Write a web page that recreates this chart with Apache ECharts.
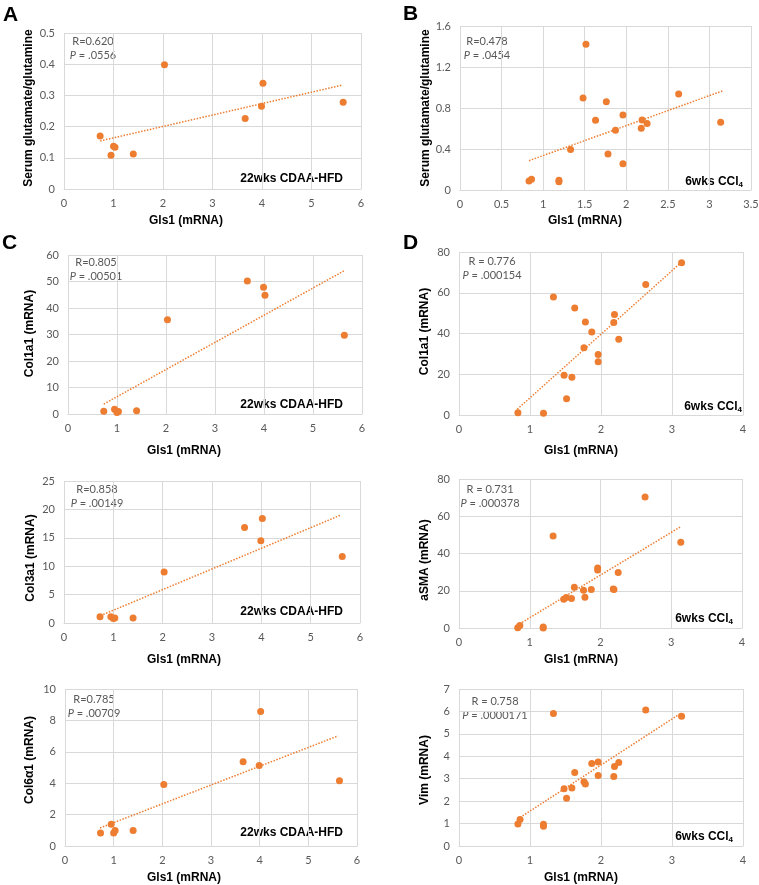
<!DOCTYPE html>
<html>
<head>
<meta charset="utf-8">
<script src="https://cdn.jsdelivr.net/npm/echarts@6/dist/echarts.min.js"></script>
<style>
  html, body { margin: 0; padding: 0; background: #fff; }
  #chart { width: 759px; height: 885px; }
</style>
</head>
<body>
<div id="chart"></div>
<script>
// Gls1 mRNA per mouse (x values)
var gls1Cdaa = [0.73, 0.95, 1.00, 1.03, 1.40, 2.03, 3.66, 3.99, 4.02, 5.64];
var gls1Ccl4 = [0.83, 0.86, 1.19, 1.19, 1.33, 1.48, 1.515, 1.59, 1.63, 1.76, 1.78, 1.87, 1.96, 1.96, 2.18, 2.19, 2.25, 2.63, 3.135];

// 22wks CDAA-HFD
var glutCdaa   = [0.170, 0.108, 0.137, 0.134, 0.112, 0.398, 0.226, 0.265, 0.339, 0.278];
var col1a1Cdaa = [1.0, 1.8, 0.6, 0.9, 1.2, 35.6, 50.2, 47.8, 44.8, 29.7];
var col3a1Cdaa = [1.1, 1.1, 0.8, 0.9, 0.9, 9.0, 16.8, 14.5, 18.4, 11.7];
var col6a1Cdaa = [0.83, 1.39, 0.83, 0.98, 0.98, 3.92, 5.37, 5.12, 8.57, 4.16];

// 6wks CCl4 (null = no point shown)
var glutCcl4   = [0.088, 0.104, 0.094, 0.081, 0.394, 0.898, 1.421, null, 0.680, 0.862, 0.351, 0.582, 0.732, 0.257, 0.602, 0.683, 0.650, 0.937, 0.660];
var col1a1Ccl4 = [1.15, null, 0.8, null, 57.9, 19.5, 8.0, 18.5, 52.5, 33.0, 45.7, 40.7, 29.7, 26.1, 45.4, 49.3, 37.2, 64.1, 74.75];
var asmaCcl4   = [0.2, 1.4, 0.5, 0.0, 49.4, 15.5, 16.4, 15.8, 21.9, 20.3, 16.5, 20.7, 32.2, 31.1, 21.0, 20.7, 29.8, 70.3, 46.0];
var vimCcl4    = [0.98, 1.18, 0.97, 0.88, 5.91, 2.55, 2.13, 2.59, 3.28, 2.86, 2.76, 3.68, 3.75, 3.14, 3.10, 3.54, 3.72, 6.06, 5.79];

// trendline end points [x, y]
var trendGlutCdaa   = [[0.73, 0.154], [5.62, 0.333]];
var trendGlutCcl4   = [[0.83, 0.286], [3.155, 0.966]];
var trendCol1a1Cdaa = [[0.73, 3.76], [5.63, 54.0]];
var trendCol1a1Ccl4 = [[0.82, 2.8], [3.13, 74.9]];
var trendCol3a1Cdaa = [[0.74, 1.3], [5.61, 19.0]];
var trendAsmaCcl4   = [[0.855, 2.2], [3.13, 54.3]];
var trendCol6a1Cdaa = [[0.72, 1.15], [5.61, 7.01]];
var trendVimCcl4    = [[0.86, 1.27], [3.13, 5.93]];

var rTexts = ['R=0.620', 'R=0.478', 'R=0.805', 'R = 0.776', 'R=0.858', 'R = 0.731', 'R=0.785', 'R = 0.758'];
var pTexts = ['.0556', '.0454', '.00501', '.000154', '.00149', '.000378', '.00709', '.0000171'];
var yNames = ['Serum glutamate/glutamine', 'Serum glutamate/glutamine', 'Col1a1 (mRNA)', 'Col1a1 (mRNA)',
              'Col3a1 (mRNA)', 'aSMA (mRNA)', 'Col6\u03b11 (mRNA)', 'Vim (mRNA)'];
var xName = 'Gls1 (mRNA)';

var ORANGE = '#ED7D31';
var GRAY = '#595959';

var panels = [
  { grid: [64, 33, 297, 156], x: gls1Cdaa, y: glutCdaa, trend: trendGlutCdaa, xAx: [6, 1], yAx: [0.5, 0.1],
    letter: ['A', 3, 15], stat: [93, 41], group: ['cdaa', 343, 179], xn: [186, 221], yn: [28.5, 108] },
  { grid: [460, 26, 291, 164], x: gls1Ccl4, y: glutCcl4, trend: trendGlutCcl4, xAx: [3.5, 0.5], yAx: [1.6, 0.4],
    letter: ['B', 403, 14], stat: [487, 41], group: ['ccl4', 743, 182], xn: [585, 221], yn: [426, 108] },
  { grid: [68, 255, 294, 159], x: gls1Cdaa, y: col1a1Cdaa, trend: trendCol1a1Cdaa, xAx: [6, 1], yAx: [60, 10],
    letter: ['C', 2, 243], stat: [96, 262], group: ['cdaa', 343, 405], xn: [184, 451], yn: [29.5, 333.5] },
  { grid: [459, 252, 284, 163], x: gls1Ccl4, y: col1a1Ccl4, trend: trendCol1a1Ccl4, xAx: [4, 1], yAx: [80, 20],
    letter: ['D', 403, 243], stat: [492, 261], group: ['ccl4', 742, 407], xn: [581, 451], yn: [425, 331.5] },
  { grid: [64, 481, 296, 142], x: gls1Cdaa, y: col3a1Cdaa, trend: trendCol3a1Cdaa, xAx: [6, 1], yAx: [25, 5],
    letter: null, stat: [97, 489], group: ['cdaa', 343, 612], xn: [184, 660], yn: [30.5, 558] },
  { grid: [459, 479, 283, 149], x: gls1Ccl4, y: asmaCcl4, trend: trendAsmaCcl4, xAx: [4, 1], yAx: [80, 20],
    letter: null, stat: [490, 489], group: ['ccl4', 733, 619], xn: [581, 660], yn: [424.5, 560] },
  { grid: [65, 689, 292, 157], x: gls1Cdaa, y: col6a1Cdaa, trend: trendCol6a1Cdaa, xAx: [6, 1], yAx: [10, 2],
    letter: null, stat: [94, 699], group: ['cdaa', 343, 833], xn: [184, 878], yn: [29.5, 760] },
  { grid: [459, 689, 284, 157], x: gls1Ccl4, y: vimCcl4, trend: trendVimCcl4, xAx: [4, 1], yAx: [7, 1],
    letter: null, stat: [495, 701], group: ['ccl4', 733, 837], xn: [581, 878], yn: [425, 770] }
];

function text(x, y, str, o) {
  o = o || {};
  return {
    type: 'text', x: x, y: y, rotation: o.rotation || 0, silent: true,
    style: {
      text: str,
      fill: o.fill || '#000',
      fontSize: o.fontSize || 12,
      fontWeight: o.fontWeight || 'normal',
      fontStyle: 'normal',
      fontFamily: o.fontFamily || 'Liberation Sans',
      align: o.align || 'center', textAlign: o.align || 'center',
      verticalAlign: 'middle', textVerticalAlign: 'middle',
      rich: o.rich
    }
  };
}

var grids = [], xAxes = [], yAxes = [], series = [], graphics = [];
var tickLabel = { color: GRAY, fontSize: 11, fontFamily: 'Lato', margin: 9 };
var split = { show: true, lineStyle: { color: '#d9d9d9', width: 1 } };

panels.forEach(function (p, i) {
  grids.push({ left: p.grid[0], top: p.grid[1], width: p.grid[2], height: p.grid[3], outerBoundsMode: 'none' });
  xAxes.push({
    type: 'value', gridIndex: i, min: 0, max: p.xAx[0], interval: p.xAx[1],
    axisLine: { show: true, lineStyle: { color: '#d9d9d9' } }, axisTick: { show: false },
    axisLabel: tickLabel, splitLine: split
  });
  yAxes.push({
    type: 'value', gridIndex: i, min: 0, max: p.yAx[0], interval: p.yAx[1],
    axisLine: { show: false }, axisTick: { show: false },
    axisLabel: tickLabel, splitLine: split
  });
  var pts = [];
  p.x.forEach(function (xv, k) { if (p.y[k] !== null) pts.push([xv, p.y[k]]); });
  series.push({
    type: 'scatter', xAxisIndex: i, yAxisIndex: i, data: pts,
    symbolSize: 7, itemStyle: { color: ORANGE, opacity: 1 }, z: 3
  });
  series.push({
    type: 'line', xAxisIndex: i, yAxisIndex: i, data: p.trend, symbol: 'none',
    lineStyle: { color: ORANGE, width: 1.5, type: [1.5, 1.5] }, z: 2
  });

  if (p.letter) {
    graphics.push(text(p.letter[1], p.letter[2], p.letter[0],
      { align: 'left', fontSize: 21, fontWeight: 'bold', fontFamily: 'Liberation Sans' }));
  }
  graphics.push(text(p.stat[0], p.stat[1], rTexts[i], { fill: GRAY, fontSize: 11, fontFamily: 'Lato' }));
  graphics.push(text(p.stat[0], p.stat[1] + 14, '{i|P}{n| = ' + pTexts[i] + '}', {
    fill: GRAY, fontSize: 11, fontFamily: 'Lato',
    rich: {
      i: { fill: GRAY, fontSize: 11, fontFamily: 'Lato', fontStyle: 'italic' },
      n: { fill: GRAY, fontSize: 11, fontFamily: 'Lato' }
    }
  }));
  var groupStr = p.group[0] === 'cdaa' ? '{b|22wks CDAA-HFD}' : '{b|6wks CCl}{s|4}';
  graphics.push(text(p.group[1], p.group[2], groupStr, {
    align: 'right',
    rich: {
      b: { fill: '#000', fontSize: 12, fontWeight: 'bold', fontFamily: 'Liberation Sans', lineHeight: 14 },
      s: { fill: '#000', fontSize: 8, fontWeight: 'bold', fontFamily: 'Liberation Sans', lineHeight: 6, verticalAlign: 'bottom' }
    }
  }));
  graphics.push(text(p.xn[0], p.xn[1], xName, { fontWeight: 'bold' }));
  graphics.push(text(p.yn[0], p.yn[1], yNames[i], { fontWeight: 'bold', rotation: Math.PI / 2 }));
});

var chart = echarts.init(document.getElementById('chart'), null, { renderer: 'canvas' });
chart.setOption({
  animation: false,
  backgroundColor: '#fff',
  grid: grids,
  xAxis: xAxes,
  yAxis: yAxes,
  series: series,
  graphic: { elements: graphics }
});
</script>
</body>
</html>
